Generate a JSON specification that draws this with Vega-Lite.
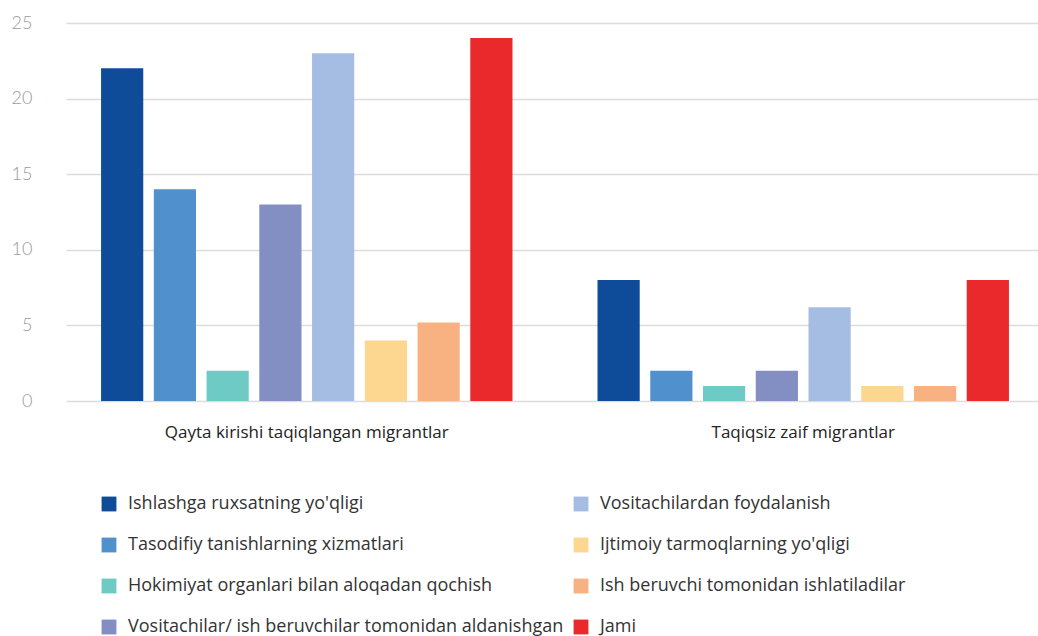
{
  "$schema": "https://vega.github.io/schema/vega-lite/v6.json",
  "autosize": {"type": "none"},
  "padding": {"left": 62, "top": 23, "right": 0, "bottom": 235},
  "width": 976,
  "height": 378,
  "background": "white",
  "config": {
    "view": {"stroke": null},
    "font": "Open Sans"
  },
  "data": {
    "values": [
      {"group": "Qayta kirishi taqiqlangan migrantlar", "reason": "Ishlashga ruxsatning yo'qligi", "value": 22},
      {"group": "Qayta kirishi taqiqlangan migrantlar", "reason": "Tasodifiy tanishlarning xizmatlari", "value": 14},
      {"group": "Qayta kirishi taqiqlangan migrantlar", "reason": "Hokimiyat organlari bilan aloqadan qochish", "value": 2},
      {"group": "Qayta kirishi taqiqlangan migrantlar", "reason": "Vositachilar/ ish beruvchilar tomonidan aldanishgan", "value": 13},
      {"group": "Qayta kirishi taqiqlangan migrantlar", "reason": "Vositachilardan foydalanish", "value": 23},
      {"group": "Qayta kirishi taqiqlangan migrantlar", "reason": "Ijtimoiy tarmoqlarning yo'qligi", "value": 4},
      {"group": "Qayta kirishi taqiqlangan migrantlar", "reason": "Ish beruvchi tomonidan ishlatiladilar", "value": 5.2},
      {"group": "Qayta kirishi taqiqlangan migrantlar", "reason": "Jami", "value": 24},
      {"group": "Taqiqsiz zaif migrantlar", "reason": "Ishlashga ruxsatning yo'qligi", "value": 8},
      {"group": "Taqiqsiz zaif migrantlar", "reason": "Tasodifiy tanishlarning xizmatlari", "value": 2},
      {"group": "Taqiqsiz zaif migrantlar", "reason": "Hokimiyat organlari bilan aloqadan qochish", "value": 1},
      {"group": "Taqiqsiz zaif migrantlar", "reason": "Vositachilar/ ish beruvchilar tomonidan aldanishgan", "value": 2},
      {"group": "Taqiqsiz zaif migrantlar", "reason": "Vositachilardan foydalanish", "value": 6.2},
      {"group": "Taqiqsiz zaif migrantlar", "reason": "Ijtimoiy tarmoqlarning yo'qligi", "value": 1},
      {"group": "Taqiqsiz zaif migrantlar", "reason": "Ish beruvchi tomonidan ishlatiladilar", "value": 1},
      {"group": "Taqiqsiz zaif migrantlar", "reason": "Jami", "value": 8}
    ]
  },
  "mark": {"type": "bar"},
  "encoding": {
    "x": {
      "field": "group",
      "type": "nominal",
      "sort": null,
      "title": null,
      "scale": {"paddingInner": 0.15, "paddingOuter": 0.06, "range": [4, 982]},
      "axis": {
        "labelAngle": 0,
        "domain": false,
        "ticks": false,
        "grid": false,
        "labelPadding": 23,
        "labelFontSize": 17,
        "labelLimit": 600,
        "labelColor": "#222222",
        "labelFont": "Open Sans"
      }
    },
    "xOffset": {
      "field": "reason",
      "type": "nominal",
      "sort": null,
      "scale": {"paddingInner": 0.2, "paddingOuter": 0.1}
    },
    "y": {
      "field": "value",
      "type": "quantitative",
      "title": null,
      "scale": {"domain": [0, 25], "nice": false},
      "axis": {
        "values": [0, 5, 10, 15, 20, 25],
        "domain": false,
        "ticks": false,
        "labelPadding": 30,
        "labelFontSize": 18,
        "labelColor": "#9a9a9a",
        "labelFont": "Lato",
        "labelFontWeight": 300,
        "gridColor": "#dcdcdc",
        "gridWidth": 1.5
      }
    },
    "color": {
      "field": "reason",
      "type": "nominal",
      "sort": null,
      "scale": {
        "domain": [
          "Ishlashga ruxsatning yo'qligi",
          "Tasodifiy tanishlarning xizmatlari",
          "Hokimiyat organlari bilan aloqadan qochish",
          "Vositachilar/ ish beruvchilar tomonidan aldanishgan",
          "Vositachilardan foydalanish",
          "Ijtimoiy tarmoqlarning yo'qligi",
          "Ish beruvchi tomonidan ishlatiladilar",
          "Jami"
        ],
        "range": ["#0e4c9a", "#5090cd", "#6ecac5", "#838ec3", "#a5bde2", "#fdd68f", "#f8b282", "#e9292c"]
      },
      "legend": {
        "title": null,
        "orient": "none",
        "legendX": 38,
        "legendY": 472,
        "columns": 2,
        "symbolType": "square",
        "symbolSize": 220,
        "symbolStrokeWidth": 0,
        "labelFontSize": 18,
        "labelColor": "#333333",
        "labelFont": "Open Sans",
        "labelLimit": 600,
        "labelOffset": 10,
        "rowPadding": 23,
        "columnPadding": 8,
        "gridAlign": "all"
      }
    }
  }
}
